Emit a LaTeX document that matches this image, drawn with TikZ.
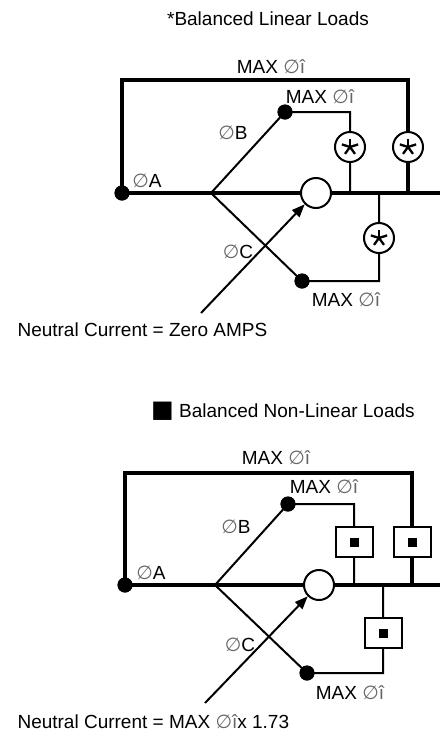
\documentclass[tikz,border=0pt]{standalone}
\usepackage{fontspec}
\setmainfont{Liberation Sans}
\newfontfamily\symfont{DejaVu Sans}
\usetikzlibrary{arrows.meta}
\newcommand{\phase}{{\color{black!60}\symfont ∅}}
\newcommand{\maxi}{MAX \phase{\color{black!60}î}}
\begin{document}
\begin{tikzpicture}[x=1pt,y=-1pt,
    every node/.style={font=\fontsize{19}{22}\selectfont},
    thickline/.style={line width=3.5pt},
    thinline/.style={line width=2pt},
    dot/.style={circle,fill=black,inner sep=0pt,minimum size=15pt},
    starload/.style={circle,draw,fill=white,line width=2pt,inner sep=0pt,minimum size=30pt},
    boxload/.style={rectangle,draw,fill=white,line width=2pt,inner sep=0pt,minimum width=37pt,minimum height=30pt},
    neutral/.style={circle,draw,fill=white,line width=2pt,inner sep=0pt,minimum size=30pt},
    flow/.style={line width=2pt,-{Triangle[length=13pt,width=10pt]}}]
\useasboundingbox (0,0) rectangle (440,732);

% LINEAR LOADS ================================================================
  \node at (268,19) {*Balanced Linear Loads};
  \node[dot] (tA) at (122,193) {};
  \node[dot] (tB) at (285,112) {};
  \node[dot] (tC) at (302,281) {};
  \coordinate (tJ) at (211,193); % Junction
  \coordinate (tE) at (440,193); % Bus end
  \coordinate (tTL) at (122,80);
  \coordinate (tTR) at (408,80);
  \coordinate (tS) at (201,313); % Arrow start

  \draw[thinline] (tJ) -- (tB.center) -| (350,193);
  \draw[thinline] (tJ) -- (tC.center) -| (379,193);
  \draw[thickline] (tA.center) -- (tE);
  \draw[thickline] (tA.center) -- (tTL) -- (tTR) -- (tTR |- tE);

  \node[starload] (tL1) at (350,147) {};
  \node[starload] (tL2) at (408,147) {};
  \node[starload] (tL3) at (379,238) {};
  \foreach \n in {tL1,tL2,tL3} {
    \foreach \a in {-90,-18,54,126,198} {
      \draw[line width=2.3pt] (\n.center) -- ++(\a:8.5);
    }
  }
  \node[neutral] (tN) at (316,193) {};
  \node[dot] at (tA) {};
  \node[dot] at (tB) {};
  \node[dot] at (tC) {};
  \draw[flow] (tS) -- (tN.225);

  \node at (271,67) {\maxi};
  \node at (320,97) {\maxi};
  \node at (233,133) {\phase B};
  \node at (147,181) {\phase A};
  \node at (238,252) {\phase C};
  \node at (346,300) {\maxi};
  \node[anchor=west] at (14,330) {Neutral Current = Zero AMPS};

% NON-LINEAR LOADS ============================================================
  \node at (283,411) {{\symfont\fontsize{24}{22}\selectfont ■} Balanced Non-Linear Loads};
  \node[dot] (bA) at (125,585) {};
  \node[dot] (bB) at (288,504) {};
  \node[dot] (bC) at (307,673) {};
  \coordinate (bJ) at (215,585); % Junction
  \coordinate (bE) at (440,585); % Bus end
  \coordinate (bTL) at (125,473);
  \coordinate (bTR) at (412,473);
  \coordinate (bS) at (205,703); % Arrow start

  \draw[thinline] (bJ) -- (bB.center) -| (354,585);
  \draw[thinline] (bJ) -- (bC.center) -| (383,585);
  \draw[thickline] (bA.center) -- (bE);
  \draw[thickline] (bA.center) -- (bTL) -- (bTR) -- (bTR |- bE);

  \node[boxload] (bL1) at (354,542) {\rule{9pt}{9pt}};
  \node[boxload] (bL2) at (412,542) {\rule{9pt}{9pt}};
  \node[boxload] (bL3) at (383,633) {\rule{9pt}{9pt}};
  \node[neutral] (bN) at (319,585) {};
  \node[dot] at (bA) {};
  \node[dot] at (bB) {};
  \node[dot] at (bC) {};
  \draw[flow] (bS) -- (bN.225);

  \node at (276,458) {\maxi};
  \node at (324,487) {\maxi};
  \node at (236,527) {\phase B};
  \node at (151,573) {\phase A};
  \node at (240,645) {\phase C};
  \node at (350,693) {\maxi};
  \node[anchor=west] at (14,722) {Neutral Current = \maxi x 1.73};

\end{tikzpicture}
\end{document}
